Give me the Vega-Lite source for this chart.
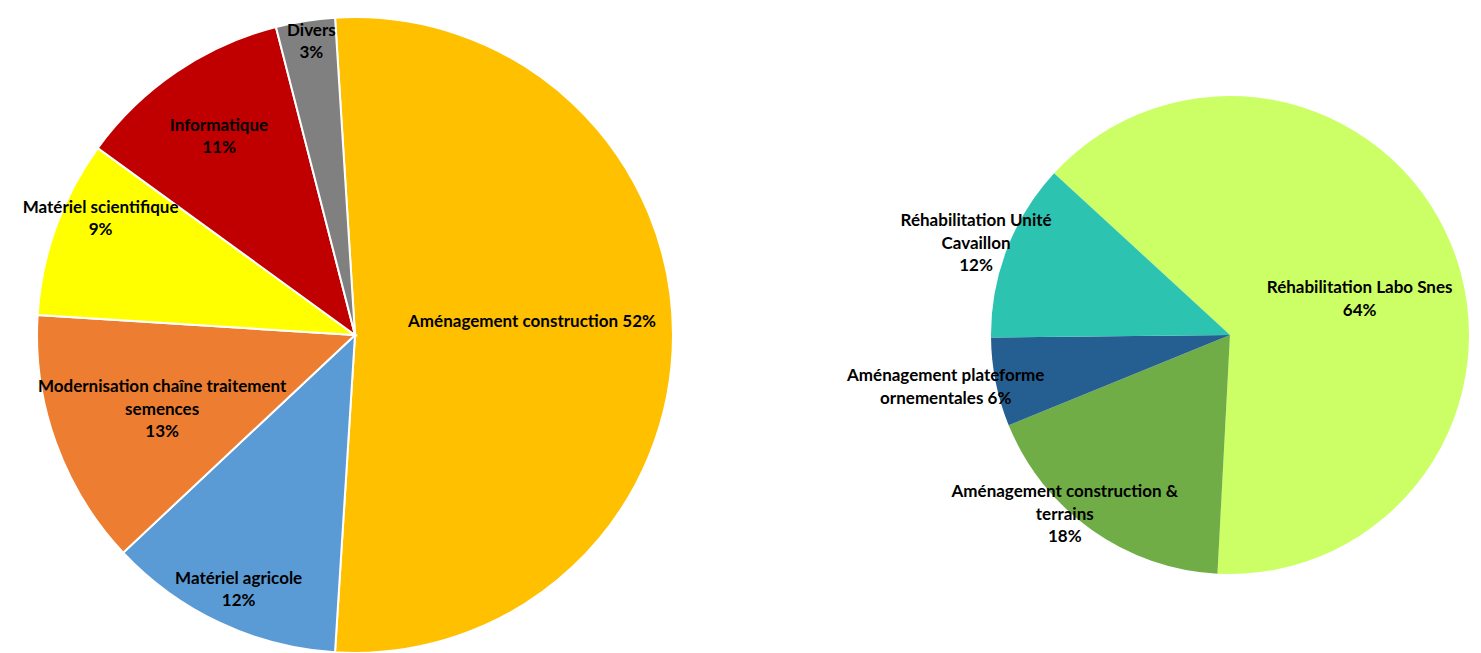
{
  "$schema": "https://vega.github.io/schema/vega-lite/v6.json",
  "padding": 0,
  "background": "white",
  "spacing": 270,
  "bounds": "flush",
  "config": {"view": {"stroke": null}},
  "resolve": {"scale": {"theta": "independent", "color": "independent"}},
  "hconcat": [
    {
      "width": 710,
      "height": 653,
      "data": {"values": [
        {"k": 0, "cat": "Aménagement construction", "v": 52, "label": "Aménagement construction  52%"},
        {"k": 1, "cat": "Matériel agricole", "v": 12, "label": "Matériel agricole\n12%"},
        {"k": 2, "cat": "Modernisation chaîne traitement semences", "v": 13, "label": "Modernisation chaîne traitement\nsemences\n13%"},
        {"k": 3, "cat": "Matériel scientifique", "v": 9, "label": "Matériel scientifique\n9%"},
        {"k": 4, "cat": "Informatique", "v": 11, "label": "Informatique\n11%"},
        {"k": 5, "cat": "Divers", "v": 3, "label": "Divers\n3%"}
      ]},
      "encoding": {
        "theta": {"field": "v", "type": "quantitative", "stack": true, "scale": {"range": [-0.0628, 6.2204]}},
        "order": {"field": "k", "type": "quantitative"}
      },
      "layer": [
        {"mark": {"type": "arc", "outerRadius": 318, "stroke": "white", "strokeWidth": 2, "yOffset": 8.5},
         "encoding": {"color": {"field": "cat", "type": "nominal", "legend": null,
           "scale": {"domain": ["Aménagement construction", "Matériel agricole", "Modernisation chaîne traitement semences", "Matériel scientifique", "Informatique", "Divers"],
                     "range": ["#FFC000", "#5B9BD5", "#ED7D31", "#FFFF00", "#C00000", "#808080"]}}}},
        {"mark": {"type": "text", "radius": 177, "dy": -13, "yOffset": 8.5, "font": "Lato", "fontWeight": "bold", "fontSize": 17, "lineBreak": "\n", "lineHeight": 22.5, "fill": "#000000"},
         "encoding": {"text": {"condition": {"test": "datum.k == 0", "field": "label", "type": "nominal"}, "value": ""}}},
        {"mark": {"type": "text", "radius": 278, "dx": 2, "dy": -8, "yOffset": 8.5, "font": "Lato", "fontWeight": "bold", "fontSize": 17, "lineBreak": "\n", "lineHeight": 22.5, "fill": "#000000"},
         "encoding": {"text": {"condition": {"test": "datum.k == 1", "field": "label", "type": "nominal"}, "value": ""}}},
        {"mark": {"type": "text", "radius": 205, "dy": -17, "yOffset": 8.5, "font": "Lato", "fontWeight": "bold", "fontSize": 17, "lineBreak": "\n", "lineHeight": 22.5, "fill": "#000000"},
         "encoding": {"text": {"condition": {"test": "datum.k == 2", "field": "label", "type": "nominal"}, "value": ""}}},
        {"mark": {"type": "text", "radius": 281, "dx": 10, "dy": -32, "yOffset": 8.5, "font": "Lato", "fontWeight": "bold", "fontSize": 17, "lineBreak": "\n", "lineHeight": 22.5, "fill": "#000000"},
         "encoding": {"text": {"condition": {"test": "datum.k == 3", "field": "label", "type": "nominal"}, "value": ""}}},
        {"mark": {"type": "text", "radius": 242, "dy": -9, "yOffset": 8.5, "font": "Lato", "fontWeight": "bold", "fontSize": 17, "lineBreak": "\n", "lineHeight": 22.5, "fill": "#000000"},
         "encoding": {"text": {"condition": {"test": "datum.k == 4", "field": "label", "type": "nominal"}, "value": ""}}},
        {"mark": {"type": "text", "radius": 298, "dx": 3, "dy": -10, "yOffset": 8.5, "font": "Lato", "fontWeight": "bold", "fontSize": 17, "lineBreak": "\n", "lineHeight": 22.5, "fill": "#000000"},
         "encoding": {"text": {"condition": {"test": "datum.k == 5", "field": "label", "type": "nominal"}, "value": ""}}}
      ]
    },
    {
      "width": 500,
      "height": 653,
      "data": {"values": [
        {"k": 0, "cat": "Réhabilitation Labo Snes", "v": 64, "label": "Réhabilitation Labo Snes\n64%"},
        {"k": 1, "cat": "Aménagement construction & terrains", "v": 18, "label": "Aménagement construction &\nterrains\n18%"},
        {"k": 2, "cat": "Aménagement plateforme ornementales", "v": 6, "label": "Aménagement plateforme\nornementales 6%"},
        {"k": 3, "cat": "Réhabilitation Unité Cavaillon", "v": 12, "label": "Réhabilitation Unité\nCavaillon\n12%"}
      ]},
      "encoding": {
        "theta": {"field": "v", "type": "quantitative", "stack": true, "scale": {"range": [-0.827, 5.456]}},
        "order": {"field": "k", "type": "quantitative"}
      },
      "layer": [
        {"mark": {"type": "arc", "outerRadius": 239, "yOffset": 8.5},
         "encoding": {"color": {"field": "cat", "type": "nominal", "legend": null,
           "scale": {"domain": ["Réhabilitation Labo Snes", "Aménagement construction & terrains", "Aménagement plateforme ornementales", "Réhabilitation Unité Cavaillon"],
                     "range": ["#CCFF66", "#70AD47", "#255E91", "#2DC3B1"]}}}},
        {"mark": {"type": "text", "radius": 140, "dy": 6, "yOffset": 8.5, "font": "Lato", "fontWeight": "bold", "fontSize": 17, "lineBreak": "\n", "lineHeight": 22.5, "fill": "#000000"},
         "encoding": {"text": {"condition": {"test": "datum.k == 0", "field": "label", "type": "nominal"}, "value": ""}}},
        {"mark": {"type": "text", "radius": 242, "dx": -25, "dy": -40, "yOffset": 8.5, "font": "Lato", "fontWeight": "bold", "fontSize": 17, "lineBreak": "\n", "lineHeight": 22.5, "fill": "#000000"},
         "encoding": {"text": {"condition": {"test": "datum.k == 1", "field": "label", "type": "nominal"}, "value": ""}}},
        {"mark": {"type": "text", "radius": 290, "dy": -16, "yOffset": 8.5, "font": "Lato", "fontWeight": "bold", "fontSize": 17, "lineBreak": "\n", "lineHeight": 22.5, "fill": "#000000"},
         "encoding": {"text": {"condition": {"test": "datum.k == 2", "field": "label", "type": "nominal"}, "value": ""}}},
        {"mark": {"type": "text", "radius": 272, "dy": -16, "yOffset": 8.5, "font": "Lato", "fontWeight": "bold", "fontSize": 17, "lineBreak": "\n", "lineHeight": 22.5, "fill": "#000000"},
         "encoding": {"text": {"condition": {"test": "datum.k == 3", "field": "label", "type": "nominal"}, "value": ""}}}
      ]
    }
  ]
}
